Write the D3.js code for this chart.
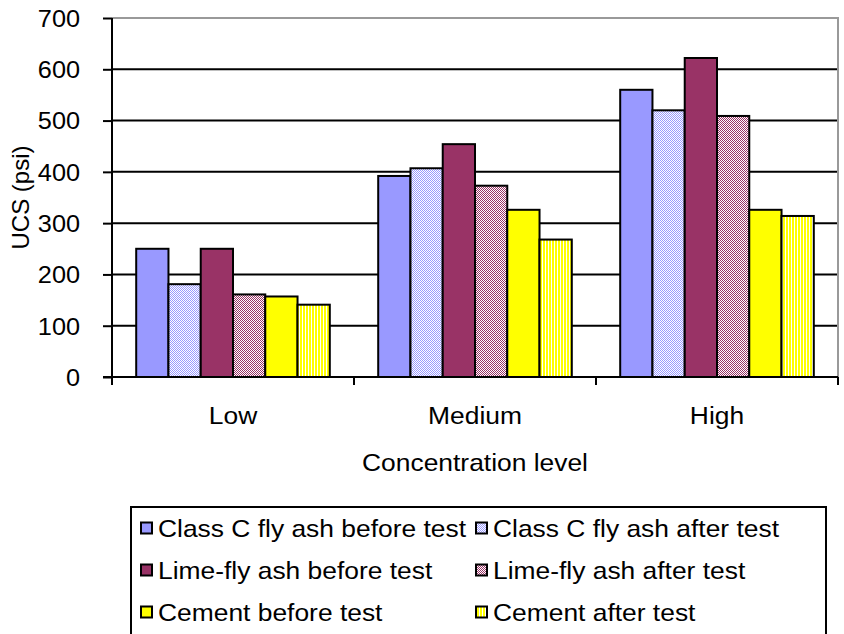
<!DOCTYPE html>
<html><head><meta charset="utf-8">
<script src="https://cdn.jsdelivr.net/npm/d3@7"></script>
<style>body{margin:0;background:#fff}svg{display:block}text{font-family:"Liberation Sans",Arial,sans-serif;fill:#000}</style>
</head><body>
<script>
const categories = ["Low", "Medium", "High"];
const seriesNames = ["Class C fly ash before test", "Class C fly ash after test", "Lime-fly ash before test", "Lime-fly ash after test", "Cement before test", "Cement after test"];
const classCBefore = [250, 392, 560];
const classCAfter = [181, 407, 520];
const limeBefore = [250, 454, 622];
const limeAfter = [161, 373, 509];
const cementBefore = [157, 326, 326];
const cementAfter = [141, 268, 314];
const yTicks = [0, 100, 200, 300, 400, 500, 600, 700];
const seriesValues = [classCBefore, classCAfter, limeBefore, limeAfter, cementBefore, cementAfter];

const W = 844, H = 634, SX = 1.1;
const svg = d3.select("body").append("svg").attr("width", W).attr("height", H);
const defs = svg.append("defs");

function diagPattern(id, color) {
  const p = defs.append("pattern").attr("id", id).attr("patternUnits", "userSpaceOnUse").attr("width", 4).attr("height", 4);
  p.append("rect").attr("width", 4).attr("height", 4).attr("fill", "#fff");
  for (let a = 0; a < 4; a++) for (let b = 0; b < 4; b++) {
    if ((a + b) % 2 === 0)
      p.append("rect").attr("x", a).attr("y", b).attr("width", 1).attr("height", 1).attr("fill", color);
  }
}
diagPattern("pBlue", "#9999FF");
diagPattern("pLime", "#993366");
{
  const p = defs.append("pattern").attr("id", "pYel").attr("patternUnits", "userSpaceOnUse").attr("width", 3).attr("height", 3);
  p.append("rect").attr("width", 3).attr("height", 3).attr("fill", "#fff");
  p.append("rect").attr("width", 2).attr("height", 3).attr("fill", "#FFFF00");
}
const fills = ["#9999FF", "url(#pBlue)", "#993366", "url(#pLime)", "#FFFF00", "url(#pYel)"];

function label(parent, x, y, txt, size, anchor, rot) {
  return parent.append("text")
    .attr("transform", `translate(${x},${y})` + (rot ? ` rotate(${rot})` : "") + ` scale(${SX},1)`)
    .attr("text-anchor", anchor || "start").attr("font-size", size).text(txt);
}

const L = 112, R = 838, T = 18, B = 377;
const x0 = d3.scaleBand().domain(categories).range([L, R]).padding(0);
const bw = x0.bandwidth();
const barW = bw / 7.5;
const x1 = d3.scaleBand().domain(d3.range(6)).range([barW * 0.75, bw - barW * 0.75]).padding(0);
const y = d3.scaleLinear().domain([0, 700]).range([B, T]);

svg.append("g").selectAll("line").data(yTicks.filter(v => v > 0 && v < 700)).join("line")
  .attr("x1", L).attr("x2", R).attr("y1", d => y(d)).attr("y2", d => y(d))
  .attr("stroke", "#000").attr("stroke-width", 2);
svg.append("path").attr("d", `M${L},${y(700)}H${R}V${B}`).attr("fill", "none").attr("stroke", "#999").attr("stroke-width", 2);

const g = svg.append("g");
categories.forEach((c, ci) => {
  seriesValues.forEach((vals, si) => {
    g.append("rect")
      .attr("x", x0(c) + x1(si))
      .attr("y", y(vals[ci]))
      .attr("width", x1.bandwidth())
      .attr("height", y(0) - y(vals[ci]))
      .attr("fill", fills[si])
      .attr("stroke", "#000").attr("stroke-width", 2);
  });
});

const yAxis = d3.axisLeft(y).tickValues(yTicks).tickSize(9).tickPadding(23);
const ya = svg.append("g").attr("transform", `translate(${L},0)`).call(yAxis);
ya.select(".domain").attr("stroke-width", 2).attr("d", `M0,${T}V${B}`);
ya.selectAll(".tick line").attr("stroke-width", 2);
ya.selectAll(".tick text").attr("font-size", 23).attr("font-family", "Liberation Sans, Arial, sans-serif")
  .attr("x", -32 / SX).attr("dy", "0.36em").attr("transform", `scale(${SX},1)`);

const xa = svg.append("g").attr("transform", `translate(0,${B})`);
xa.append("line").attr("x1", L - 9).attr("x2", R).attr("stroke", "#000").attr("stroke-width", 2);
const bounds = categories.map(c => x0(c)).concat([R]);
xa.selectAll(".tk").data(bounds).join("line").attr("class", "tk")
  .attr("x1", d => d).attr("x2", d => d).attr("y1", 0).attr("y2", 8)
  .attr("stroke", "#000").attr("stroke-width", 2);
categories.forEach(c => label(xa, x0(c) + bw / 2, 47, c, 24, "middle"));

svg.append("text").attr("transform", `translate(29,${(T + B) / 2}) rotate(-90)`)
  .attr("text-anchor", "middle").attr("font-size", 24).text("UCS (psi)");
label(svg, 475, 471, "Concentration level", 24, "middle");

svg.append("rect").attr("x", 131).attr("y", 507).attr("width", 695).attr("height", 140)
  .attr("fill", "#fff").attr("stroke", "#000").attr("stroke-width", 2);
const colX = [141, 476], rowY = [528, 570, 612];
seriesNames.forEach((n, i) => {
  const cx = colX[i % 2], cy = rowY[Math.floor(i / 2)];
  svg.append("rect").attr("x", cx).attr("y", cy - 5.5).attr("width", 11).attr("height", 11)
    .attr("fill", fills[i]).attr("stroke", "#000").attr("stroke-width", 2);
  label(svg, cx + 17, cy + 9, n, 24, "start");
});
</script>
</body></html>
